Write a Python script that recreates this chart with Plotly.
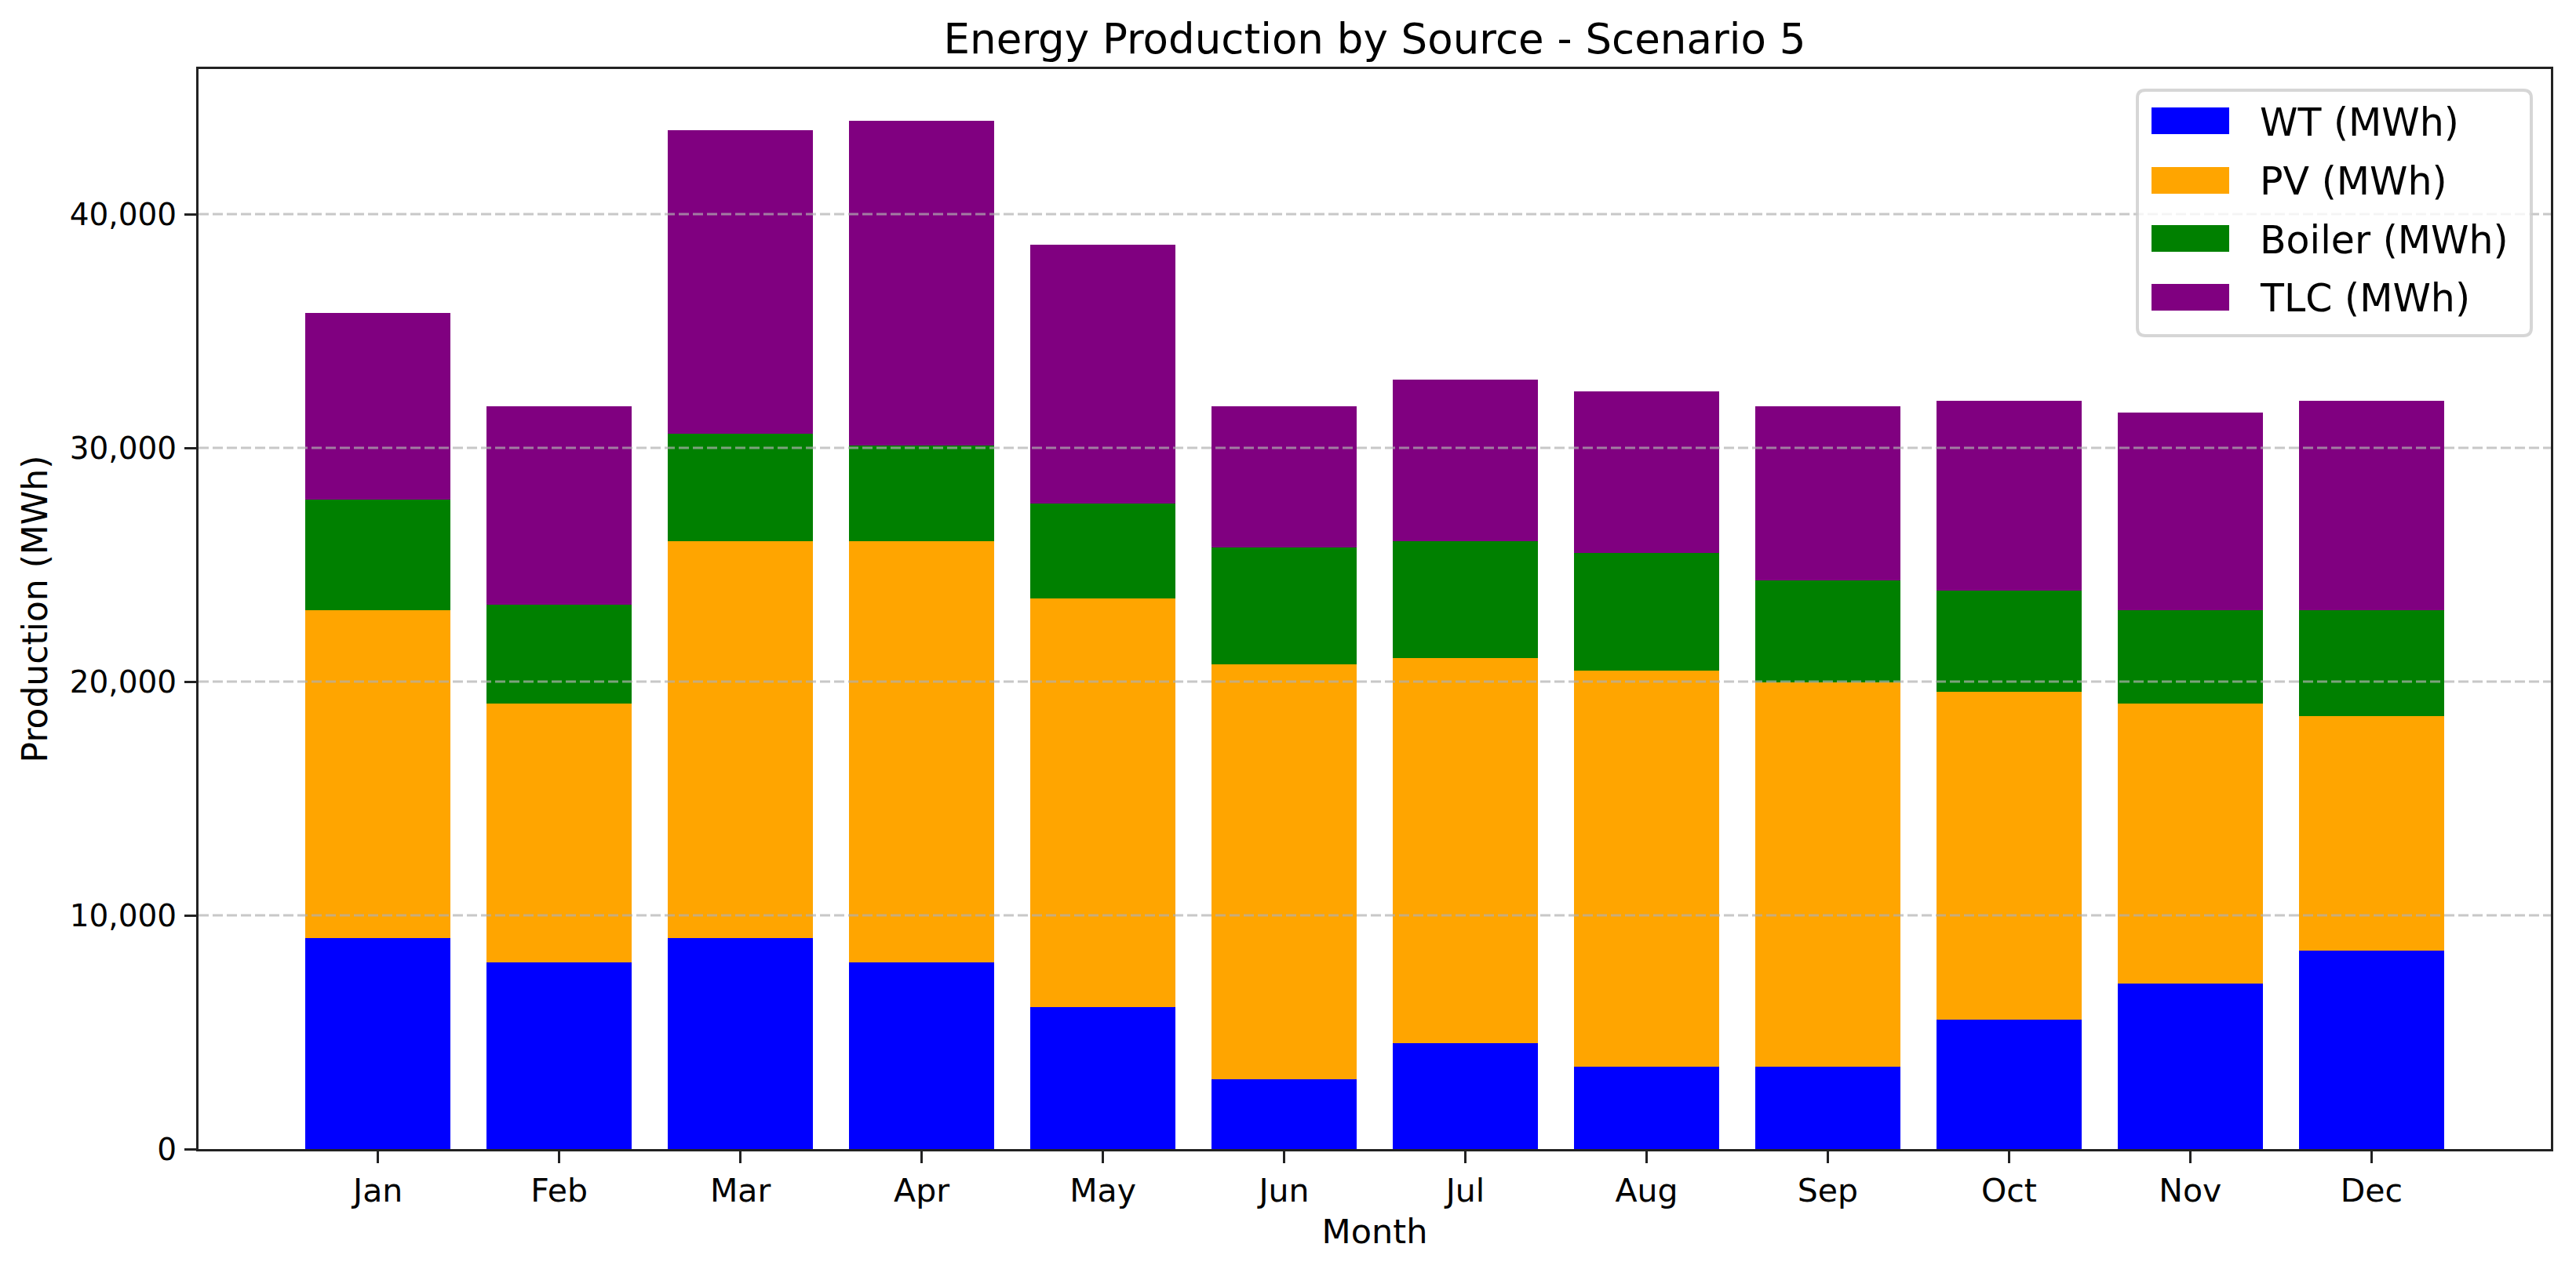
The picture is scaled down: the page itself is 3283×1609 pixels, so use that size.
import plotly.graph_objects as go

# ---------------- data ----------------
months = ["Jan", "Feb", "Mar", "Apr", "May", "Jun",
          "Jul", "Aug", "Sep", "Oct", "Nov", "Dec"]
wt_mwh = [9040, 8000, 9040, 8000, 6080, 3000, 4540, 3530, 3530, 5540, 7080, 8500]
pv_mwh = [14000, 11050, 16960, 18000, 17470, 17730, 16460, 16940, 16430, 14040, 11970, 10040]
boiler_mwh = [4740, 4230, 4590, 4090, 4080, 5010, 5000, 5030, 4360, 4320, 3990, 4500]
tlc_mwh = [8000, 8500, 13000, 13920, 11080, 6040, 6930, 6930, 7460, 8120, 8470, 8980]
series_names = ["WT (MWh)", "PV (MWh)", "Boiler (MWh)", "TLC (MWh)"]
series_values = [wt_mwh, pv_mwh, boiler_mwh, tlc_mwh]
series_colors = ["#0000FF", "#FFA500", "#008000", "#800080"]
y_ticks = [0, 10000, 20000, 30000, 40000]
title_text = "Energy Production by Source - Scenario 5"
x_title = "Month"
y_title = "Production (MWh)"

# ---------------- layout constants ----------------
W, H = 3283, 1609
L, R, T, B = 253, 32, 88, 144
PW, PH = W - L - R, H - T - B
FONT = "DejaVu Sans"
AXIS_COLOR = "#222222"


def xp(px):
    return (px - L) / PW


def yp(py):
    return (H - B - py) / PH


fig = go.Figure()
for name, vals, col in zip(series_names, series_values, series_colors):
    fig.add_trace(go.Bar(
        x=months, y=vals, name=name,
        marker=dict(color=col, line=dict(width=0)),
        showlegend=False,
    ))

totals = [sum(v) for v in zip(*series_values)]
n = len(months)
pad = 0.05 * (n - 1 + 0.8)
x_range = [-0.4 - pad, n - 1 + 0.4 + pad]
y_range = [0, max(totals) * 1.05]

shapes = []
# dashed grid drawn over the bars (as in the reference)
for v in y_ticks:
    if v <= 0:
        continue
    shapes.append(dict(
        type="line", xref="paper", yref="y", x0=0, x1=1, y0=v, y1=v,
        line=dict(color="rgba(176,176,176,0.7)", width=3, dash="13px,5px"),
        layer="above",
    ))

# legend box (rounded)
bx0, bx1, by0, by1 = 2724, 3226, 115, 428
rad = 10
path = (
    f"M {xp(bx0 + rad)} {yp(by0)} L {xp(bx1 - rad)} {yp(by0)} "
    f"Q {xp(bx1)} {yp(by0)} {xp(bx1)} {yp(by0 + rad)} "
    f"L {xp(bx1)} {yp(by1 - rad)} Q {xp(bx1)} {yp(by1)} {xp(bx1 - rad)} {yp(by1)} "
    f"L {xp(bx0 + rad)} {yp(by1)} Q {xp(bx0)} {yp(by1)} {xp(bx0)} {yp(by1 - rad)} "
    f"L {xp(bx0)} {yp(by0 + rad)} Q {xp(bx0)} {yp(by0)} {xp(bx0 + rad)} {yp(by0)} Z"
)
shapes.append(dict(
    type="path", xref="paper", yref="paper", path=path,
    fillcolor="rgba(255,255,255,0.8)",
    line=dict(color="rgba(204,204,204,0.8)", width=4),
    layer="above",
))

annotations = []
row_centers = [154, 230, 304, 379]
for name, col, cy in zip(series_names, series_colors, row_centers):
    shapes.append(dict(
        type="rect", xref="paper", yref="paper",
        x0=xp(2742), x1=xp(2841), y0=yp(cy - 17), y1=yp(cy + 17),
        fillcolor=col, line=dict(width=0), layer="above",
    ))
    annotations.append(dict(
        xref="paper", yref="paper", x=xp(2878), y=yp(cy + 2),
        xanchor="left", yanchor="middle", showarrow=False,
        text=name, font=dict(family=FONT, size=49, color="black"),
    ))

fig.update_layout(
    width=W, height=H,
    margin=dict(l=L, r=R, t=T, b=B, pad=0),
    paper_bgcolor="white", plot_bgcolor="white",
    barmode="stack", bargap=0.2,
    font=dict(family=FONT, color="black"),
    title=dict(
        text=title_text, x=0.5, xref="paper", xanchor="center",
        y=1 - 49 / H, yref="container", yanchor="middle",
        font=dict(family=FONT, size=53, color="black"),
    ),
    xaxis=dict(
        type="category", range=x_range,
        showgrid=False, zeroline=False,
        showline=True, linecolor=AXIS_COLOR, linewidth=3, mirror=True,
        ticks="outside", ticklen=15, tickwidth=3, tickcolor=AXIS_COLOR,
        tickfont=dict(family=FONT, size=41, color="black"),
        ticklabelstandoff=0,
        title=dict(text=x_title, font=dict(family=FONT, size=43, color="black"), standoff=14),
    ),
    yaxis=dict(
        range=y_range,
        tickvals=y_ticks, ticktext=[f"{v:,}" for v in y_ticks],
        showgrid=False, zeroline=False,
        showline=True, linecolor=AXIS_COLOR, linewidth=3, mirror=True,
        ticks="outside", ticklen=15, tickwidth=3, tickcolor=AXIS_COLOR,
        tickfont=dict(family=FONT, size=39, color="black"),
        ticklabelstandoff=2,
        title=dict(text=y_title, font=dict(family=FONT, size=44, color="black"), standoff=15),
    ),
    shapes=shapes,
    annotations=annotations,
)

fig.write_html(
    "out.html",
    config={"displayModeBar": False},
    post_script="document.body.style.margin='0';document.body.style.overflow='hidden';",
)
